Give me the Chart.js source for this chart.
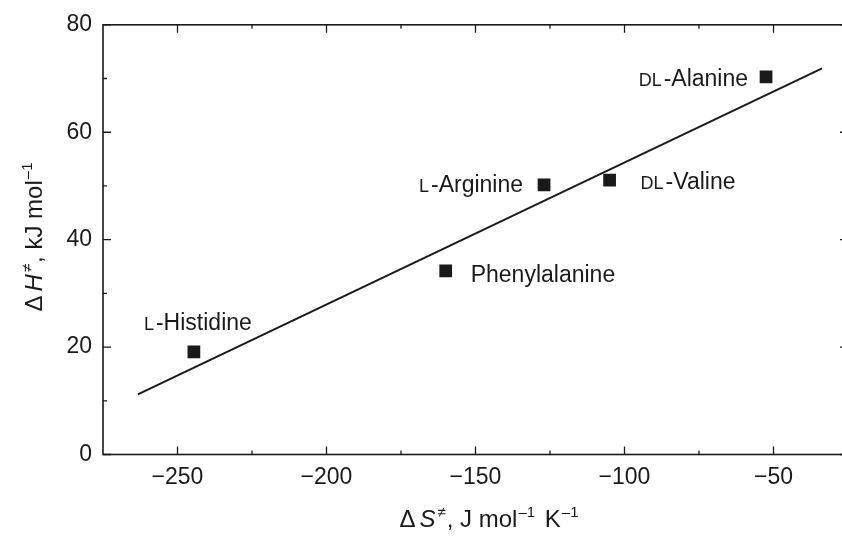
<!DOCTYPE html>
<html>
<head>
<meta charset="utf-8">
<script src="https://cdn.jsdelivr.net/npm/chart.js@4.4.1/dist/chart.umd.min.js"></script>
<style>
  html, body { margin: 0; padding: 0; background: #fff; overflow: hidden; }
  #wrap { width: 860px; height: 536px; }
</style>
</head>
<body>
<div id="wrap"><canvas id="chart" width="860" height="536"></canvas></div>
<script>
// data
const compounds = ["L-Histidine", "Phenylalanine", "L-Arginine", "DL-Valine", "DL-Alanine"];
const entropy = [-244.5, -160, -127, -105, -52.5];
const enthalpy = [19.1, 34.2, 50.2, 51.1, 70.3];
const fitX = [-263.3, -33.7];
const fitY = [11.2, 71.9];
const xTicks = [-250, -200, -150, -100, -50];
const xMinor = [-225, -175, -125, -75];
const yTicks = [0, 20, 40, 60, 80];
const yMinor = [10, 30, 50, 70];

const INK = "#1a1a1a";
const FONT = "'Liberation Sans', Arial, sans-serif";

// where each label sits relative to its point
const labelSpots = [
  { align: "center", dx: 4, dy: -22 },
  { align: "left", dx: 25, dy: 11 },
  { align: "right", dx: -21, dy: 7 },
  { align: "left", dx: 31, dy: 9 },
  { align: "right", dx: -18, dy: 9 }
];

function minus(v) {
  return v < 0 ? "\u2212" + Math.abs(v) : String(v);
}

function drawRich(ctx, parts, x, y, align) {
  const widths = parts.map((p) => {
    ctx.font = (p.italic ? "italic " : "") + p.size + "px " + FONT;
    return ctx.measureText(p.t).width + (p.gap || 0);
  });
  const total = widths.reduce((a, b) => a + b, 0);
  let cx = align === "center" ? x - total / 2 : align === "right" ? x - total : x;
  ctx.textAlign = "left";
  ctx.textBaseline = "alphabetic";
  parts.forEach((p, i) => {
    ctx.font = (p.italic ? "italic " : "") + p.size + "px " + FONT;
    cx += p.gap || 0;
    ctx.fillText(p.t, cx, y - (p.rise || 0));
    cx += widths[i] - (p.gap || 0);
  });
}

function labelParts(name) {
  const m = name.match(/^(DL|L)(-.*)$/);
  if (!m) return [{ t: name, size: 23 }];
  return [{ t: m[1], size: 18 }, { t: m[2], size: 23, gap: 2 }];
}

const framePlugin = {
  id: "frame",
  beforeDatasetsDraw(chart) {
    const { ctx, chartArea: a, scales } = chart;
    ctx.save();
    ctx.strokeStyle = INK;
    ctx.lineWidth = 1.6;
    ctx.strokeRect(a.left, a.top, a.right - a.left, a.bottom - a.top);
    ctx.lineWidth = 1.3;
    ctx.beginPath();
    const tick = (vals, len) => {
      vals.forEach((v) => {
        const px = scales.x.getPixelForValue(v);
        ctx.moveTo(px, a.bottom); ctx.lineTo(px, a.bottom - len);
        ctx.moveTo(px, a.top); ctx.lineTo(px, a.top + len);
      });
    };
    const ytick = (vals, len) => {
      vals.forEach((v) => {
        const py = scales.y.getPixelForValue(v);
        ctx.moveTo(a.left, py); ctx.lineTo(a.left + len, py);
        ctx.moveTo(a.right, py); ctx.lineTo(a.right - len, py);
      });
    };
    tick(xTicks, 8); tick(xMinor, 4);
    ytick(yTicks, 8); ytick(yMinor, 4);
    ctx.stroke();
    ctx.restore();
  },
  afterDraw(chart) {
    const { ctx, chartArea: a } = chart;
    const pts = chart.getDatasetMeta(1).data;
    ctx.save();
    ctx.fillStyle = INK;
    compounds.forEach((name, i) => {
      const s = labelSpots[i];
      drawRich(ctx, labelParts(name), pts[i].x + s.dx, pts[i].y + s.dy, s.align);
    });

    const sup = 15, rise = 10, big = 24;
    drawRich(ctx, [
      { t: "\u0394", size: big },
      { t: "S", size: big, italic: true, gap: 4 },
      { t: "\u2260", size: sup, rise: rise, gap: 2 },
      { t: ", J mol", size: big, gap: 1 },
      { t: "\u20131", size: sup, rise: rise, gap: 1 },
      { t: " K", size: big, gap: 3 },
      { t: "\u20131", size: sup, rise: rise, gap: 1 }
    ], a.left + 386, 527, "center");

    ctx.translate(42, 237);
    ctx.rotate(-Math.PI / 2);
    drawRich(ctx, [
      { t: "\u0394", size: big },
      { t: "H", size: big, italic: true, gap: 4 },
      { t: "\u2260", size: sup, rise: rise, gap: 2 },
      { t: ", kJ mol", size: big, gap: 1 },
      { t: "\u20131", size: sup, rise: rise, gap: 1 }
    ], 0, 0, "center");
    ctx.restore();
  }
};

new Chart(document.getElementById("chart"), {
  type: "scatter",
  data: {
    datasets: [
      {
        data: fitX.map((x, i) => ({ x, y: fitY[i] })),
        showLine: true,
        borderColor: INK,
        borderWidth: 2,
        pointRadius: 0
      },
      {
        data: entropy.map((x, i) => ({ x, y: enthalpy[i] })),
        pointStyle: "rect",
        pointRadius: 9,
        backgroundColor: INK,
        borderWidth: 0
      }
    ]
  },
  options: {
    responsive: false,
    animation: false,
    devicePixelRatio: 1,
    layout: { padding: { top: 21, right: 12, left: 0, bottom: 0 } },
    plugins: { legend: { display: false }, tooltip: { enabled: false } },
    scales: {
      x: {
        type: "linear",
        min: -275,
        max: -25,
        afterBuildTicks: (s) => { s.ticks = xTicks.map((v) => ({ value: v })); },
        afterFit: (s) => { s.height = 81.5; },
        grid: { display: false, drawTicks: false },
        border: { display: false },
        ticks: {
          padding: 9,
          color: INK,
          font: { family: FONT, size: 23 },
          callback: (v) => minus(v),
          maxRotation: 0
        }
      },
      y: {
        type: "linear",
        min: 0,
        max: 80,
        afterBuildTicks: (s) => { s.ticks = yTicks.map((v) => ({ value: v })); },
        afterFit: (s) => { s.width = 103; },
        grid: { display: false, drawTicks: false },
        border: { display: false },
        ticks: {
          padding: 11,
          color: INK,
          font: { family: FONT, size: 23 },
          callback: (v) => minus(v)
        }
      }
    }
  },
  plugins: [framePlugin]
});
</script>
</body>
</html>
